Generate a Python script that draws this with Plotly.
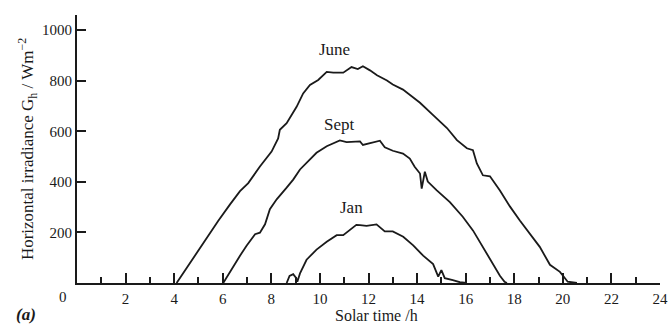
import plotly.graph_objects as go

# Horizontal irradiance traces through the day (solar time in hours, W/m^2)
june_time = [4.10, 4.79, 5.47, 5.81, 6.30, 6.71, 7.05, 7.53, 8.01, 8.28, 8.35, 8.63,
             9.04, 9.31, 9.59, 9.93, 10.28, 10.55, 10.96, 11.30, 11.56, 11.77, 12.06,
             12.35, 12.76, 13.00, 13.42, 13.83, 14.12, 14.65, 15.23, 15.64, 16.05,
             16.30, 16.46, 16.71, 17.00, 17.41, 17.82, 18.23, 18.64, 19.05, 19.47,
             19.88, 20.08, 20.20, 20.58]
june_irr = [0, 100, 198, 245, 311, 363, 395, 461, 520, 572, 606, 632,
            697, 750, 783, 803, 835, 832, 832, 854, 846, 857, 841,
            822, 801, 785, 765, 734, 713, 665, 613, 565, 533,
            525, 473, 426, 422, 366, 303, 247, 195, 143, 72,
            44, 20, 5, 0]

sept_time = [6.02, 6.37, 6.71, 6.98, 7.33, 7.53, 7.74, 7.94, 8.22, 8.63, 8.90, 9.18,
             9.45, 9.86, 10.28, 10.82, 11.10, 11.65, 11.77, 12.18, 12.47, 12.67,
             13.00, 13.42, 13.70, 13.90, 14.12, 14.19, 14.32, 14.44, 14.80, 15.35,
             15.88, 16.30, 16.71, 17.12, 17.41, 17.60, 17.70]
sept_irr = [0, 56, 108, 147, 193, 199, 232, 292, 331, 377, 409, 449,
            475, 515, 541, 564, 557, 560, 546, 556, 563, 537,
            523, 512, 492, 460, 433, 373, 440, 401, 367, 320,
            262, 208, 142, 75, 29, 5, 0]

jan_time = [8.63, 8.75, 8.90, 9.02, 9.07, 9.18, 9.45, 9.86, 10.28, 10.69, 10.96,
            11.30, 11.50, 11.65, 11.92, 12.33, 12.67, 13.00, 13.43, 13.84, 14.25,
            14.66, 14.87, 15.00, 15.14, 15.47, 15.76, 16.04]
jan_irr = [0, 28, 35, 20, 5, 38, 92, 132, 163, 189, 189,
           213, 230, 229, 226, 232, 204, 204, 183, 149, 108,
           75, 25, 51, 19, 11, 3, 0]

month_labels = ["June", "Sept", "Jan"]
label_pos = [(10.6, 925), (10.8, 628), (11.3, 300)]

x_ticks = list(range(2, 25, 2))
y_ticks = [200, 400, 600, 800, 1000]

FONT = "Liberation Serif"
INK = "#1a1a1a"

fig = go.Figure()
for t, g in [(june_time, june_irr), (sept_time, sept_irr), (jan_time, jan_irr)]:
    fig.add_trace(go.Scatter(x=t, y=g, mode="lines",
                             line=dict(color=INK, width=1.8),
                             showlegend=False, hoverinfo="skip"))

for name, (lx, ly) in zip(month_labels, label_pos):
    fig.add_annotation(x=lx, y=ly, text=name, showarrow=False,
                       font=dict(family=FONT, size=17, color=INK))

# zero label sits just left of the origin
fig.add_annotation(x=0, y=0, text="0", showarrow=False, xanchor="center",
                   yanchor="top", xshift=-14, yshift=-4,
                   font=dict(family=FONT, size=15, color=INK))
# x-axis title, kept inside the bottom edge
fig.add_annotation(x=0.513, y=-0.1567, xref="paper", yref="paper",
                   text="Solar time /h", showarrow=False,
                   xanchor="center", yanchor="bottom", borderpad=0,
                   font=dict(family=FONT, size=16, color=INK))
# panel letter
fig.add_annotation(x=-0.088, y=-0.1567, xref="paper", yref="paper",
                   text="<b><i>(a)</i></b>", showarrow=False,
                   xanchor="center", yanchor="bottom", borderpad=0,
                   font=dict(family=FONT, size=17, color=INK))

fig.update_layout(
    width=670, height=325,
    margin=dict(l=77, r=10, t=15, b=42),
    paper_bgcolor="white", plot_bgcolor="white",
    font=dict(family=FONT, size=15, color=INK),
    xaxis=dict(range=[0, 24], tickvals=x_ticks, ticktext=[str(v) for v in x_ticks],
               ticks="inside", ticklen=10, tickwidth=1.5, tickcolor=INK,
               showline=True, linecolor=INK, linewidth=2, showgrid=False,
               zeroline=False, tickfont=dict(family=FONT, size=15),
               ticklabelstandoff=1, automargin=False,
               minor=dict(dtick=1, tick0=0, ticks="inside", ticklen=6,
                          tickwidth=1.5, tickcolor=INK, showgrid=False)),
    yaxis=dict(range=[0, 1060], tickvals=y_ticks,
               ticks="inside", ticklen=9, tickwidth=1.5, tickcolor=INK,
               showline=True, linecolor=INK, linewidth=2, showgrid=False,
               zeroline=False, tickfont=dict(family=FONT, size=15),
               automargin=False,
               title=dict(text="Horizontal irradiance G<sub>h</sub> / Wm<sup>\u22122</sup>",
                          standoff=4, font=dict(family=FONT, size=17))),
)

fig.write_html("out.html")
